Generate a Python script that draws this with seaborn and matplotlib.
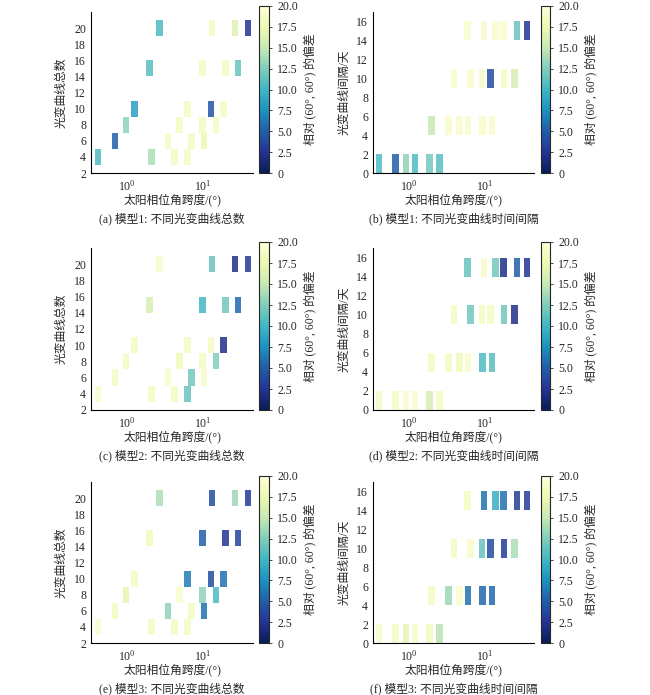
import numpy as np
import seaborn as sns
import matplotlib
matplotlib.use("Agg")
import matplotlib.pyplot as plt
from matplotlib.colors import Normalize
from matplotlib.cm import ScalarMappable
from matplotlib.ticker import LogLocator, FixedLocator, FuncFormatter

# Rows of the "total light curves" panels and solar phase-angle spans (deg)
count_rows = [4, 6, 8, 10, 15, 20]
count_span = [
    [0.42, 2.10, 4.22, 6.21],
    [0.70, 3.48, 7.01, 10.3],
    [0.98, 4.92, 9.8, 14.7],
    [1.26, 6.21, 12.6, 18.6],
    [1.97, 9.8, 19.5, 28.7],
    [2.67, 13.0, 26.2, 38.5],
]
# deviation relative to (60°, 60°)
dev_a = [[10.5, 14, 18.5, 18.5], [5, 18.5, 18.5, 17.5], [13, 18.5, 18.5, 18.5],
         [8.5, 18.5, 4.5, 18.5], [11, 18.5, 18.5, 11.5], [10.5, 18.5, 16.5, 2.5]]
dev_c = [[19, 18.5, 18.5, 11.5], [18.5, 19, 12, 19], [18.5, 18, 18.5, 12.5],
         [18.5, 18.5, 18.5, 2], [16, 10, 12, 5.5], [19, 11.5, 2, 3]]
dev_e = [[19, 18.5, 18.5, 18.5], [18.5, 13, 18.5, 6], [17, 19, 13, 10.5],
         [18.5, 6.5, 4, 6], [18, 5, 2.5, 3.5], [14, 4, 13.5, 3]]

# Rows of the "interval (days)" panels
interval_rows = [1, 5, 10, 15]
interval_span = [
    [0.41, 0.67, 0.93, 1.21, 1.88, 2.57],
    [2.0, 3.34, 4.67, 6.08, 9.5, 12.6],
    [3.97, 6.59, 9.3, 12.0, 18.2, 24.9],
    [6.0, 9.9, 14.0, 17.8, 27.0, 36.6],
]
dev_b = [[10.5, 5, 13, 10.5, 12, 11], [15, 19, 19, 19, 19, 19],
         [19, 19, 19, 4, 18.5, 16], [19, 19, 19, 19, 11.5, 2.5]]
dev_d = [[18.5, 18.5, 19, 19, 16, 18.5], [18.5, 18.5, 18, 19, 10.5, 11],
         [18.5, 12, 18.5, 18.5, 12, 2], [11.5, 19, 12, 2, 5, 2.5]]
dev_f = [[19, 18.5, 17, 19, 18, 14.5], [18.5, 13.5, 19, 6, 5.5, 5.5],
         [18.5, 19, 11.5, 4, 3, 14], [18.5, 6, 9.5, 6, 3, 3]]

captions = ["(a) 模型1: 不同光变曲线总数", "(b) 模型1: 不同光变曲线时间间隔",
            "(c) 模型2: 不同光变曲线总数", "(d) 模型2: 不同光变曲线时间间隔",
            "(e) 模型3: 不同光变曲线总数", "(f) 模型3: 不同光变曲线时间间隔"]
xlabel = "太阳相位角跨度/(°)"
ylabel_count = "光变曲线总数"
ylabel_interval = "光变曲线间隔/天"
cbar_label = "相对 (60°, 60°) 的偏差"
cbar_ticks = [0, 2.5, 5, 7.5, 10, 12.5, 15, 17.5, 20]

sns.set_style("white")
plt.rcParams["font.family"] = ["Liberation Serif", "Noto Sans CJK SC", "DejaVu Sans"]
plt.rcParams["mathtext.fontset"] = "stix"
plt.rcParams["font.size"] = 8.5

cmap = sns.color_palette("YlGnBu_r", as_cmap=True)
norm = Normalize(0, 20)

W, H = 650, 695
fig = plt.figure(figsize=(W / 100, H / 100), dpi=100)

def px_axes(left, top, right, bottom):
    return fig.add_axes([left / W, 1 - bottom / H, (right - left) / W, (bottom - top) / H])

def draw_panel(ax, rows, spans, devs, ylim, yticks, ylabel, ylab_x):
    half = 0.043  # half bar width in decades
    for y, xs, vs in zip(rows, spans, devs):
        xs = np.array(xs)
        lo = xs * 10 ** (-half)
        hi = xs * 10 ** half
        ax.bar(lo, 2, width=hi - lo, bottom=y - 1, align="edge",
               color=cmap(norm(np.array(vs))), alpha=0.85, linewidth=0)
    ax.set_xscale("log")
    ax.set_xlim(0.34, 45)
    ax.set_ylim(*ylim)
    ax.set_yticks(yticks)
    ax.xaxis.set_major_locator(FixedLocator([1, 10]))
    ax.xaxis.set_minor_locator(LogLocator(base=10, subs=np.arange(2, 10)))
    ax.tick_params(which="both", direction="in", labelsize=8.5)
    ax.tick_params(which="major", length=3.5, width=0.8)
    ax.tick_params(which="minor", length=2, width=0.6)
    ax.tick_params(axis="x", which="major", pad=4)
    sns.despine(ax=ax)
    for s in ["left", "bottom"]:
        ax.spines[s].set_linewidth(0.8)
        ax.spines[s].set_color("black")
    ax.set_xlabel(xlabel, fontsize=8.5)
    ax.set_ylabel(ylabel, fontsize=8.5)
    ax.xaxis.set_label_coords(0.5, -0.125)
    ax.yaxis.set_label_coords(ylab_x, 0.5)

def draw_cbar(cax):
    sm = ScalarMappable(norm=norm, cmap=cmap)
    cb = fig.colorbar(sm, cax=cax, ticks=cbar_ticks)
    cb.ax.yaxis.set_major_formatter(FuncFormatter(lambda v, p: "0" if v == 0 else f"{v:.1f}"))
    cb.ax.tick_params(labelsize=8.5, length=2.5, width=0.6)
    cb.outline.set_linewidth(0.8)
    cb.set_label(cbar_label, fontsize=8.5, labelpad=4)

row_pos = [(12, 173), (248, 410), (482, 643)]
count_devs = [dev_a, dev_c, dev_e]
interval_devs = [dev_b, dev_d, dev_f]

for r, (top, bottom) in enumerate(row_pos):
    ax1 = px_axes(91, top, 253, bottom)
    draw_panel(ax1, count_rows, count_span, count_devs[r], (2, 22),
               range(2, 21, 2), ylabel_count, -0.145)
    draw_cbar(px_axes(259, top - 6, 269, bottom))
    ax1.text(0.5, -0.285, captions[2 * r], transform=ax1.transAxes,
             ha="center", va="center", fontsize=8.5)

    ax2 = px_axes(373, top, 534, bottom)
    draw_panel(ax2, interval_rows, interval_span, interval_devs[r], (0, 17),
               range(0, 17, 2), ylabel_interval, -0.14)
    draw_cbar(px_axes(541, top - 6, 550, bottom))
    ax2.text(0.5, -0.285, captions[2 * r + 1], transform=ax2.transAxes,
             ha="center", va="center", fontsize=8.5)

fig.savefig("out.png", dpi=100)
